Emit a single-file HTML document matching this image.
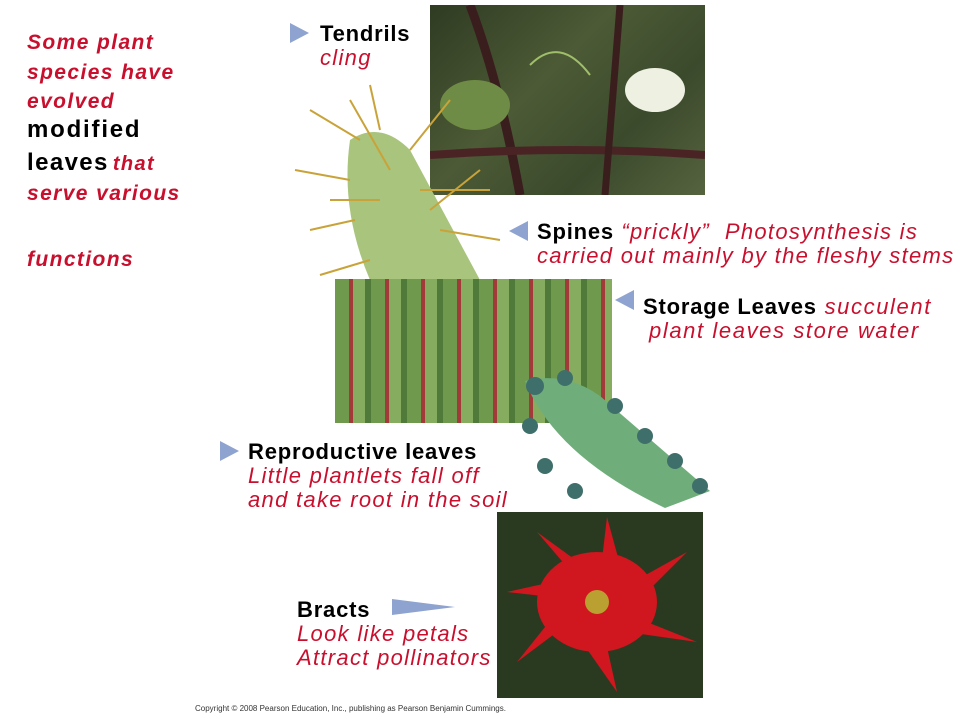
<!DOCTYPE html>
<html><head><meta charset="utf-8"><style>
body{margin:0;width:960px;height:720px;background:#fff;position:relative;overflow:hidden;font-family:"Liberation Sans",sans-serif}
.t{position:absolute;font-size:22px;white-space:nowrap;line-height:24px;letter-spacing:1.3px}
.r{color:#c8102e;font-style:italic}
.b{color:#000;font-weight:bold;letter-spacing:0.8px}
.l{position:absolute;font-size:21px;line-height:30px;color:#c8102e;font-style:italic;font-weight:bold;left:27px;letter-spacing:1.4px;white-space:nowrap}
.tri{position:absolute;width:0;height:0;border-top:10px solid transparent;border-bottom:10px solid transparent}
.ph{position:absolute}
</style></head><body>
<div class="l" style="top:28px">Some plant</div>
<div class="l" style="top:58px">species have</div>
<div class="l" style="top:87px">evolved</div>
<div class="l" style="top:115px;color:#000;font-style:normal;font-size:24px;letter-spacing:1.8px">modified</div>
<div class="l" style="top:148px"><span style="color:#000;font-style:normal;font-size:24px;letter-spacing:1.4px">leaves</span><span style="font-size:20px;margin-left:4px">that</span></div>
<div class="l" style="top:179px">serve various</div>
<div class="l" style="top:245px">functions</div>

<div class="ph" style="left:430px;top:5px;width:275px;height:190px;background:linear-gradient(135deg,#2f3b22,#4c5a36 40%,#3b4a2c 70%,#56633f)">
<svg width="275" height="190"><path d="M40 0 Q70 80 90 190" stroke="#3a1e1e" stroke-width="9" fill="none"/><path d="M0 150 Q140 140 275 150" stroke="#4a2424" stroke-width="8" fill="none"/><path d="M190 0 L175 190" stroke="#3a1e1e" stroke-width="7"/><ellipse cx="225" cy="85" rx="30" ry="22" fill="#eef0e2"/><ellipse cx="45" cy="100" rx="35" ry="25" fill="#6e8c45"/><path d="M100 60 Q130 30 160 70" stroke="#9fbf6a" stroke-width="2" fill="none"/></svg></div>
<svg class="ph" style="left:290px;top:80px" width="220" height="200"><path d="M60 60 Q90 40 120 70 L190 200 L80 200 Q50 130 60 60Z" fill="#a9c47c"/><g stroke="#c9a33a" stroke-width="2"><line x1="70" y1="60" x2="20" y2="30"/><line x1="90" y1="50" x2="80" y2="5"/><line x1="120" y1="70" x2="160" y2="20"/><line x1="60" y1="100" x2="5" y2="90"/><line x1="65" y1="140" x2="20" y2="150"/><line x1="130" y1="110" x2="200" y2="110"/><line x1="150" y1="150" x2="210" y2="160"/><line x1="80" y1="180" x2="30" y2="195"/><line x1="100" y1="90" x2="60" y2="20"/><line x1="140" y1="130" x2="190" y2="90"/><line x1="90" y1="120" x2="40" y2="120"/></g></svg>
<div class="ph" style="left:335px;top:279px;width:277px;height:144px;background:repeating-linear-gradient(90deg,#6f9a4e 0 14px,#a23a3a 14px 18px,#86ad5f 18px 30px,#4f7a3a 30px 36px)"></div>
<svg class="ph" style="left:505px;top:366px" width="205" height="145"><path d="M20 15 Q60 5 95 30 L205 125 L160 142 Q50 90 20 15Z" fill="#6fae7a"/><g fill="#3f6f6a"><circle cx="30" cy="20" r="9"/><circle cx="60" cy="12" r="8"/><circle cx="110" cy="40" r="8"/><circle cx="140" cy="70" r="8"/><circle cx="170" cy="95" r="8"/><circle cx="195" cy="120" r="8"/><circle cx="25" cy="60" r="8"/><circle cx="40" cy="100" r="8"/><circle cx="70" cy="125" r="8"/></g></svg>
<div class="ph" style="left:497px;top:512px;width:206px;height:186px;background:#2a3a20">
<svg width="206" height="186"><g fill="#d0161e"><path d="M100 90 L40 20 L95 60Z"/><path d="M100 90 L110 5 L125 60Z"/><path d="M100 90 L190 40 L140 90Z"/><path d="M100 90 L200 130 L130 120Z"/><path d="M100 90 L120 180 L85 130Z"/><path d="M100 90 L20 150 L60 100Z"/><path d="M100 90 L10 80 L55 70Z"/><ellipse cx="100" cy="90" rx="60" ry="50"/></g><circle cx="100" cy="90" r="12" fill="#b9a030"/></svg></div>

<div class="tri" style="left:290px;top:23px;border-left:19px solid #8ea3cf"></div>
<div class="t b" style="left:320px;top:22px">Tendrils</div>
<div class="t r" style="left:320px;top:46px">cling</div>

<div class="tri" style="left:509px;top:221px;border-right:19px solid #8ea3cf"></div>
<div class="t" style="left:537px;top:220px"><span class="b">Spines</span> <span class="r">“prickly”&nbsp; Photosynthesis is</span></div>
<div class="t r" style="left:537px;top:244px">carried out mainly by the fleshy stems</div>

<div class="tri" style="left:615px;top:290px;border-right:19px solid #8ea3cf"></div>
<div class="t" style="left:643px;top:295px;letter-spacing:1.6px"><span class="b">Storage Leaves</span> <span class="r">succulent</span></div>
<div class="t r" style="left:649px;top:319px;letter-spacing:1.6px">plant leaves store water</div>

<div class="tri" style="left:220px;top:441px;border-left:19px solid #8ea3cf"></div>
<div class="t b" style="left:248px;top:440px">Reproductive leaves</div>
<div class="t r" style="left:248px;top:464px">Little plantlets fall off</div>
<div class="t r" style="left:248px;top:488px">and take root in the soil</div>

<div class="tri" style="left:392px;top:599px;border-top-width:8px;border-bottom-width:8px;border-left:63px solid #8ea3cf"></div>
<div class="t b" style="left:297px;top:598px">Bracts</div>
<div class="t r" style="left:297px;top:622px">Look like petals</div>
<div class="t r" style="left:297px;top:646px">Attract pollinators</div>

<div style="position:absolute;left:195px;top:704px;font-size:8px;color:#333">Copyright © 2008 Pearson Education, Inc., publishing as Pearson Benjamin Cummings.</div>
</body></html>
